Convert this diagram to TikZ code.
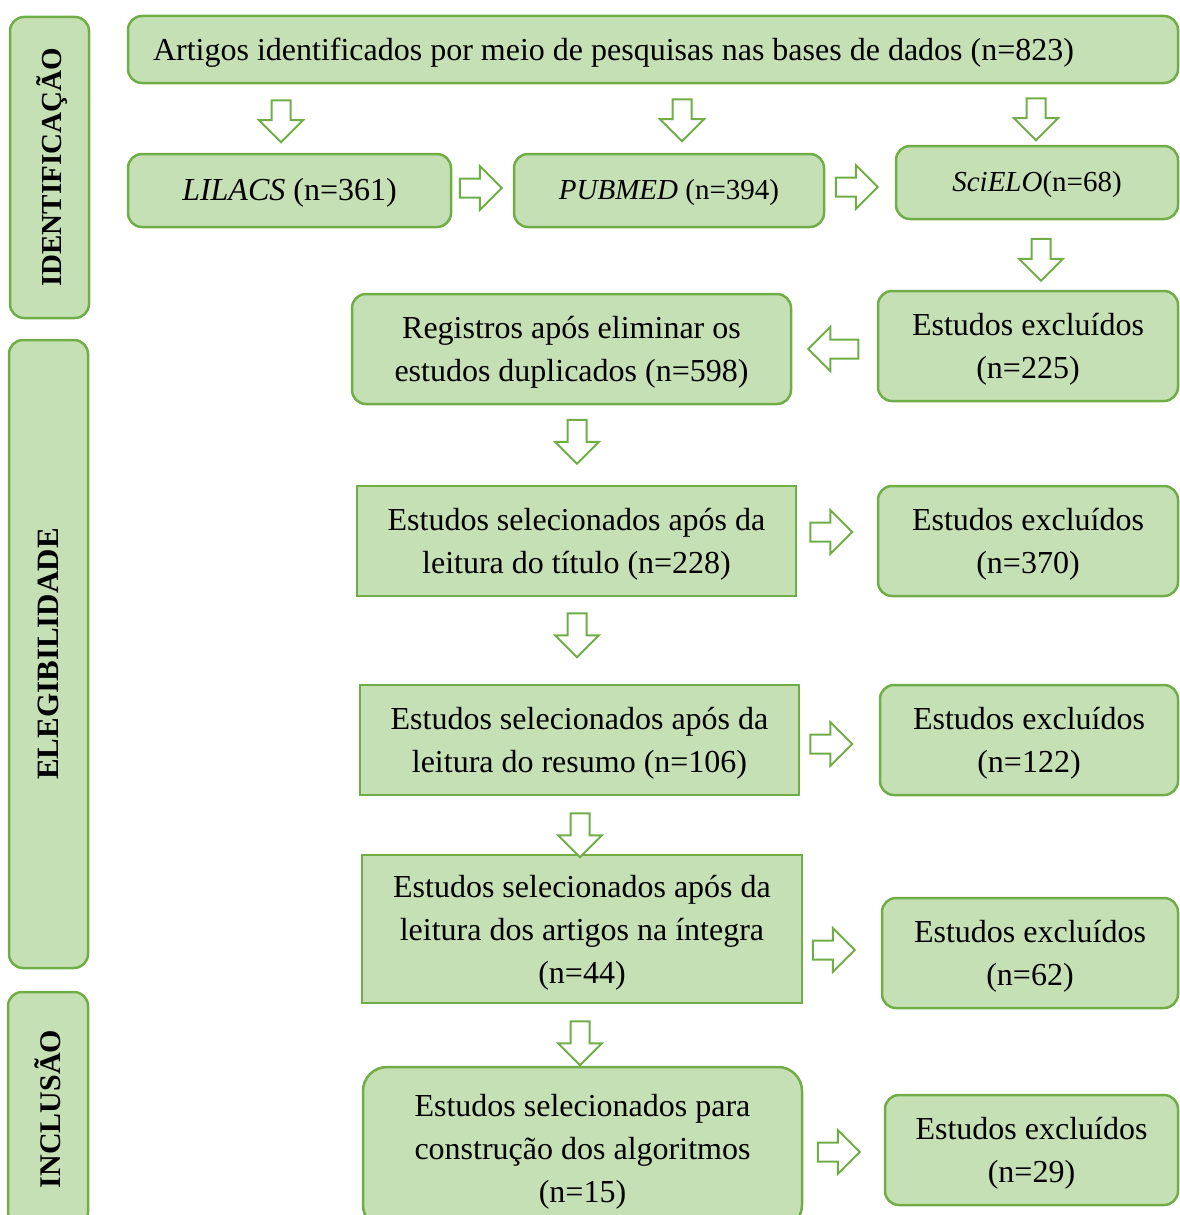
\documentclass[tikz,border=0pt]{standalone}
\usepackage{fontspec}
\setmainfont{Liberation Serif}
\usetikzlibrary{shapes.arrows}
\definecolor{boxfill}{HTML}{C5E0B4}
\definecolor{boxline}{HTML}{70AD47}

\begin{document}
\begin{tikzpicture}[x=1pt,y=-1pt]
\tikzstyle{box} = [rectangle, draw=boxline, fill=boxfill, line width=2.5pt, align=center, inner sep=0pt, font=\fontsize{32}{43}\selectfont, text depth=0pt]
\tikzstyle{rbox} = [box, rounded corners=14pt]
\tikzstyle{phase} = [rbox, rotate=90, font=\fontsize{30}{36}\selectfont\bfseries]
\tikzstyle{blockarrow} = [single arrow, draw=boxline, fill=white, line width=2pt, minimum height=42pt, minimum width=42pt, inner sep=8.5pt, single arrow head extend=12.5pt]

\useasboundingbox (0,0) rectangle (1179,1215);

% fases
\node[phase, minimum width=301pt, minimum height=79pt, font=\fontsize{29}{36}\selectfont\bfseries] (ident) at (49.5,167.5) {IDENTIFICAÇÃO};
\node[phase, minimum width=628pt, minimum height=79pt, font=\fontsize{31}{36}\selectfont\bfseries] (eleg) at (48.5,654) {ELEGIBILIDADE};
\node[phase, minimum width=234pt, minimum height=80pt] (incl) at (48,1109) {INCLUSÃO};

% identificacao
\node[rbox, minimum width=1050pt, minimum height=67pt, text width=1000pt, inner xsep=25pt, align=flush left] (busca) at (653,49.5) {Artigos identificados por meio de pesquisas nas bases de dados (n=823)};
\node[rbox, minimum width=323pt, minimum height=73pt, text depth=3pt] (lilacs) at (289.5,190.5) {\textit{LILACS} (n=361)};
\node[rbox, minimum width=310pt, minimum height=73pt, text depth=3pt, font=\fontsize{29}{36}\selectfont] (pubmed) at (669,190.5) {\textit{PUBMED} (n=394)};
\node[rbox, minimum width=282pt, minimum height=73pt, text depth=3pt, font=\fontsize{29}{36}\selectfont] (scielo) at (1037,182.5) {\textit{SciELO}(n=68)};

% elegibilidade
\node[rbox, minimum width=300pt, minimum height=110pt] (excl1) at (1028,346) {Estudos excluídos\\(n=225)};
\node[rbox, minimum width=439pt, minimum height=110pt] (dupl) at (571.5,349) {Registros após eliminar os\\estudos duplicados (n=598)};
\node[box, minimum width=439pt, minimum height=110pt] (titulo) at (576.5,541) {Estudos selecionados após da\\leitura do título (n=228)};
\node[rbox, minimum width=300pt, minimum height=110pt] (excl2) at (1028,541) {Estudos excluídos\\(n=370)};
\node[box, minimum width=439pt, minimum height=110pt] (resumo) at (579.5,740) {Estudos selecionados após da\\leitura do resumo (n=106)};
\node[rbox, minimum width=298pt, minimum height=110pt] (excl3) at (1029,740) {Estudos excluídos\\(n=122)};
\node[box, minimum width=440pt, minimum height=148pt] (integra) at (582,929) {Estudos selecionados após da\\leitura dos artigos na íntegra\\(n=44)};
\node[rbox, minimum width=296pt, minimum height=110pt] (excl4) at (1030,953) {Estudos excluídos\\(n=62)};

% inclusao
\node[rbox, minimum width=439pt, minimum height=162pt, rounded corners=24pt] (final) at (582.5,1148) {Estudos selecionados para\\construção dos algoritmos\\(n=15)};
\node[rbox, minimum width=293pt, minimum height=110pt] (excl5) at (1031.5,1150) {Estudos excluídos\\(n=29)};

% setas
\node[blockarrow, shape border rotate=270] (s1) at (281,116.5) {};
\node[blockarrow, shape border rotate=270] (s2) at (682,115.5) {};
\node[blockarrow, shape border rotate=270] (s3) at (1036,114.5) {};
\node[blockarrow] (s4) at (476,188) {};
\node[blockarrow] (s5) at (852,187) {};
\node[blockarrow, shape border rotate=270] (s6) at (1041,255) {};
\node[blockarrow, shape border rotate=180, minimum height=50pt, minimum width=44pt] (s7) at (838,349) {};
\node[blockarrow, shape border rotate=270, minimum height=44pt] (s8) at (577,437) {};
\node[blockarrow] (s9) at (826.5,532) {};
\node[blockarrow, shape border rotate=270, minimum height=44pt] (s10) at (577,630.5) {};
\node[blockarrow] (s11) at (826.5,744) {};
\node[blockarrow, shape border rotate=270, minimum height=44pt] (s12) at (580,830.5) {};
\node[blockarrow] (s13) at (829,950) {};
\node[blockarrow, shape border rotate=270, minimum height=44pt] (s14) at (580,1038.5) {};
\node[blockarrow] (s15) at (834,1152) {};
\end{tikzpicture}
\end{document}
